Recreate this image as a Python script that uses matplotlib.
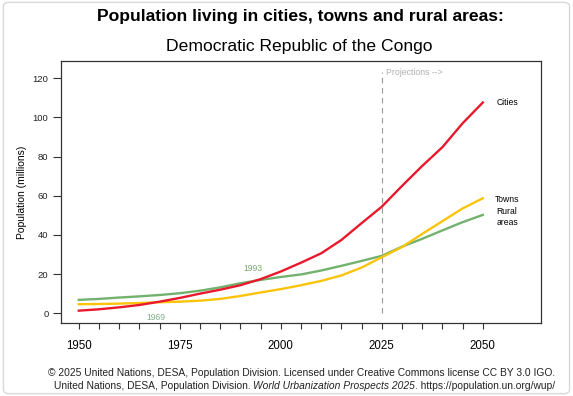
import matplotlib.pyplot as plt
from matplotlib.patches import FancyBboxPatch
import numpy as np

plt.rcParams['font.family'] = ['Liberation Sans', 'DejaVu Sans']

# dati (milioni)
years = [1950, 1955, 1960, 1965, 1970, 1975, 1980, 1985, 1990, 1995, 2000,
         2005, 2010, 2015, 2020, 2025, 2030, 2035, 2040, 2045, 2050]
cities = [1.3, 2.0, 3.0, 4.2, 5.9, 7.8, 10.0, 12.0, 14.3, 17.4, 21.3,
          25.8, 30.6, 37.4, 46.0, 54.4, 65.0, 75.2, 84.8, 97.0, 107.6]
towns = [4.6, 4.7, 4.9, 5.2, 5.6, 5.9, 6.4, 7.3, 8.8, 10.6, 12.3,
         14.3, 16.5, 19.3, 23.3, 28.6, 33.8, 40.5, 47.0, 53.5, 58.7]
rural = [6.8, 7.3, 8.0, 8.6, 9.3, 10.2, 11.5, 13.2, 15.3, 17.0, 18.5,
         19.8, 21.8, 24.2, 26.7, 29.3, 34.0, 38.0, 42.3, 46.5, 50.2]

rosso = '#e8192c'
giallo = '#fcc30b'
verde = '#72b26e'

fig = plt.figure(figsize=(5.73, 3.96), dpi=100)
fig.patches.append(FancyBboxPatch((0.006, 0.006), 0.988, 0.988,
                                  boxstyle='round,pad=0,rounding_size=0.01',
                                  transform=fig.transFigure, fc='white',
                                  ec='#d9d9d9', lw=1, zorder=-1))
ax = fig.add_axes([61 / 573, 1 - 323 / 396, 480 / 573, 262 / 396])

ax.plot(years, rural, color=verde, lw=1.7)
ax.plot(years, towns, color=giallo, lw=1.7)
ax.plot(years, cities, color=rosso, lw=1.7)

ax.plot([2025, 2025], [0, 123], color='#999999', lw=0.8, ls=(0, (5, 4)))
ax.text(2026, 123, 'Projections -->', color='#b0b0b0', fontsize=6.3,
        ha='left', va='center')

ax.text(1969, -2, '1969', color='#7fae88', fontsize=6.2, ha='center', va='center')
ax.text(1993, 22.6, '1993', color='#76a85e', fontsize=6.2, ha='center', va='center')

ax.text(2056, cities[-1], 'Cities', fontsize=6.2, ha='center', va='center')
ax.text(2056, 58.2, 'Towns', fontsize=6.2, ha='center', va='center')
ax.text(2056, 49.2, 'Rural\nareas', fontsize=6.2, ha='center', va='center',
        linespacing=1.25)

ax.set_xlim(1945.6, 2064.4)
ax.set_ylim(-5, 128.8)
ax.set_xticks([1950, 1975, 2000, 2025, 2050])
ax.set_xticks(np.arange(1950, 2051, 5), minor=True)
ax.set_yticks(np.arange(0, 121, 20))
ax.tick_params(axis='x', which='both', length=4, width=0.8, labelsize=8.3,
               pad=8, colors='#333333', labelcolor='black')
ax.tick_params(axis='y', length=6, width=0.8, labelsize=6.8, pad=3,
               colors='#333333', labelcolor='#222222')
ax.set_ylabel('Population (millions)', fontsize=7.5, labelpad=4)
for s in ax.spines.values():
    s.set_color('#333333')
    s.set_linewidth(0.9)

fig.text(0.525, 1 - 16 / 396, 'Population living in cities, towns and rural areas:',
         ha='center', va='center', fontsize=12.6, fontweight='bold')
fig.text(0.523, 1 - 47 / 396, 'Democratic Republic of the Congo',
         ha='center', va='center', fontsize=12.6)

fs_note = 7.4
fig.text(555 / 573, 1 - 373 / 396,
         '\u00a9 2025 United Nations, DESA, Population Division. Licensed under Creative Commons license CC BY 3.0 IGO.',
         ha='right', va='center', fontsize=fs_note, color='#222222')

# seconda riga: tre pezzi, quello centrale in corsivo
renderer = fig.canvas.get_renderer()
parti = [('United Nations, DESA, Population Division. ', 'normal'),
         ('World Urbanization Prospects 2025', 'italic'),
         ('. https://population.un.org/wup/', 'normal')]
x_dx = 555
for testo, stile in reversed(parti):
    t = fig.text(x_dx / 573, 1 - 386 / 396, testo, ha='right', va='center',
                 fontsize=fs_note, color='#222222', style=stile)
    bb = t.get_window_extent(renderer)
    x_dx = bb.x0

plt.savefig('out.png', dpi=100)
